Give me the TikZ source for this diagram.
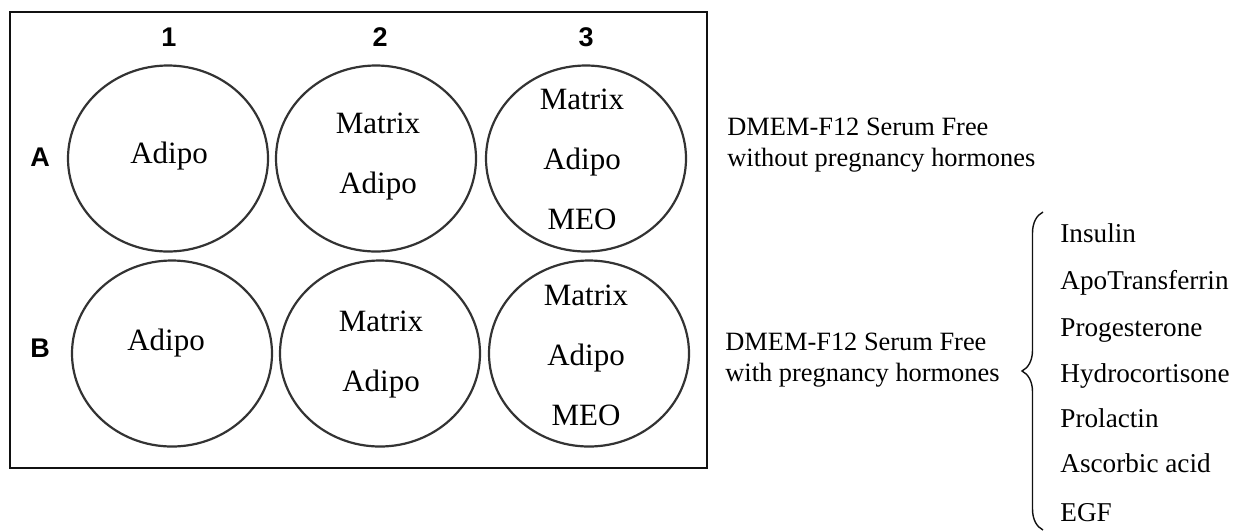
\documentclass[tikz,border=0pt]{standalone}
\usepackage{fontspec}
\setmainfont{Liberation Serif}
\setsansfont{Liberation Sans}
\usetikzlibrary{shapes.geometric,positioning,decorations.pathreplacing}
\definecolor{ink}{HTML}{111111}
\definecolor{rim}{HTML}{333333}
\tikzset{plate/.style={draw=ink,line width=1.2pt},well/.style={ellipse,draw=rim,line width=1.1pt,minimum width=100pt,minimum height=93pt,inner sep=0pt},welltext/.style={align=center,inner sep=0pt,font=\fontsize{15.5}{30}\selectfont},lab/.style={inner sep=0pt,font=\sffamily\bfseries\fontsize{13.5}{15}\selectfont},medium/.style={align=left,anchor=west,inner sep=0pt,font=\fontsize{13.2}{15.5}\selectfont},item/.style={anchor=base west,inner sep=0pt,font=\fontsize{13.6}{15}\selectfont},brace/.style={decorate,decoration={brace,amplitude=10.5pt},line width=0.7pt,ink}}

\begin{document}
\begin{tikzpicture}[x=0.5pt,y=-0.5pt]
\useasboundingbox (0,0) rectangle (1245,531);
\draw[plate] (10,12) rectangle (707,468);
% column and row labels
\node[lab] (c1) at (169,37) {1};
\node[lab] (c2) at (380,37) {2};
\node[lab] (c3) at (586,37) {3};
\node[lab] (ra) at (40,157) {A};
\node[lab] (rb) at (40,348) {B};
% wells
\node[well] (a1) at (168,158.5) {};
\node[well] (a2) at (376,158.5) {};
\node[well] (a3) at (586,158.5) {};
\node[well] (b1) at (172,353.5) {};
\node[well] (b2) at (380,353.5) {};
\node[well] (b3) at (589,353.5) {};
\node[welltext] (a1t) at (169,156) {Adipo};
\node[welltext] (a2t) at (378,157) {Matrix\\Adipo};
\node[welltext] (a3t) at (582,159) {Matrix\\Adipo\\MEO};
\node[welltext] (b1t) at (166,343) {Adipo};
\node[welltext] (b2t) at (381,355) {Matrix\\Adipo};
\node[welltext] (b3t) at (586,355) {Matrix\\Adipo\\MEO};
% media
\node[medium] (nohorm) at (727,145) {DMEM-F12 Serum Free\\without pregnancy hormones};
\node[medium] (horm) at (725,360.5) {DMEM-F12 Serum Free\\with pregnancy hormones};
% hormones
\node[item] (insulin) at (1060,242) {Insulin};
\node[item] (apotf) at (1060,289) {ApoTransferrin};
\node[item] (proges) at (1060,336) {Progesterone};
\node[item] (hydro) at (1060,382) {Hydrocortisone};
\node[item] (prolac) at (1060,427) {Prolactin};
\node[item] (ascorb) at (1060,472) {Ascorbic acid};
\node[item] (egf) at (1060,521) {EGF};
\coordinate (bracetop) at (1043,212);
\coordinate (bracebot) at (1043,530);
\draw[brace] (bracebot) -- (bracetop);
\end{tikzpicture}
\end{document}
